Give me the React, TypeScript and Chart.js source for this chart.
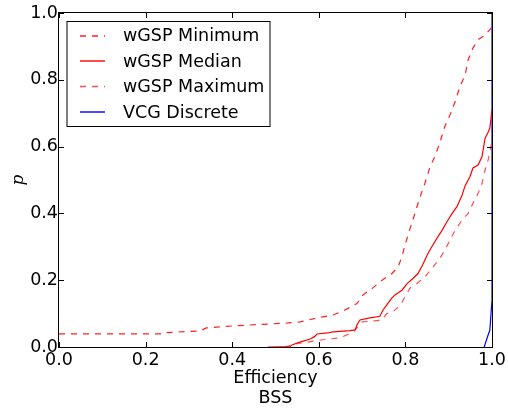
import React, { useEffect, useRef } from "react";
import { Chart, registerables } from "chart.js";

Chart.register(...registerables);

// ---- data ----
const xTickValues = [0, 0.2, 0.4, 0.6, 0.8, 1.0];
const yTickValues = [0, 0.2, 0.4, 0.6, 0.8, 1.0];
const xTitleLines = ["Efficiency", "BSS"];
const yTitle = "p";
const seriesNames = ["wGSP Minimum", "wGSP Median", "wGSP Maximum", "VCG Discrete"];

const minX = [0, 0.24, 0.245, 0.326, 0.34, 0.4, 0.53, 0.557, 0.596, 0.633, 0.656, 0.688, 0.702, 0.725, 0.741, 0.757, 0.769, 0.783, 0.792, 0.799, 0.811, 0.822, 0.834, 0.845, 0.857, 0.868, 0.88, 0.891, 0.903, 0.915, 0.926, 0.938, 0.945, 0.956, 0.968, 0.984, 1.0];
const minY = [0.039, 0.039, 0.043, 0.048, 0.057, 0.063, 0.072, 0.075, 0.087, 0.096, 0.108, 0.13, 0.156, 0.177, 0.195, 0.21, 0.22, 0.24, 0.27, 0.305, 0.356, 0.4, 0.45, 0.49, 0.54, 0.57, 0.614, 0.66, 0.695, 0.735, 0.78, 0.815, 0.86, 0.895, 0.92, 0.934, 0.958];

const medX = [0.483, 0.533, 0.538, 0.55, 0.56, 0.58, 0.59, 0.596, 0.62, 0.633, 0.672, 0.684, 0.688, 0.695, 0.718, 0.741, 0.748, 0.757, 0.769, 0.776, 0.792, 0.804, 0.818, 0.829, 0.84, 0.852, 0.861, 0.873, 0.885, 0.896, 0.908, 0.919, 0.931, 0.938, 0.949, 0.956, 0.968, 0.977, 0.984, 0.991, 0.995, 1.0];
const medY = [0, 0.001, 0.006, 0.012, 0.016, 0.024, 0.031, 0.039, 0.042, 0.045, 0.049, 0.051, 0.066, 0.081, 0.087, 0.092, 0.11, 0.126, 0.147, 0.156, 0.17, 0.19, 0.206, 0.22, 0.246, 0.28, 0.3, 0.326, 0.35, 0.375, 0.4, 0.42, 0.455, 0.483, 0.51, 0.536, 0.545, 0.57, 0.625, 0.643, 0.655, 0.71];

const maxX = [0.52, 0.55, 0.6, 0.65, 0.68, 0.69, 0.7, 0.745, 0.757, 0.771, 0.788, 0.799, 0.811, 0.827, 0.845, 0.864, 0.88, 0.891, 0.903, 0.915, 0.931, 0.945, 0.956, 0.968, 0.977, 0.984, 0.991, 0.996, 1.0];
const maxY = [0, 0.01, 0.02, 0.028, 0.045, 0.06, 0.075, 0.08, 0.1, 0.105, 0.125, 0.15, 0.177, 0.19, 0.21, 0.24, 0.266, 0.29, 0.32, 0.35, 0.38, 0.4, 0.43, 0.46, 0.49, 0.53, 0.56, 0.59, 0.62];

const vcgX = [0.982, 0.991, 0.995, 1.0, 1.0];
const vcgY = [0, 0.036, 0.05, 0.14, 1.0];

const seriesColors = ["#ff2020", "#ff0000", "#ff5050", "#0000ff"];
const seriesDashed = [true, false, true, false];

const FONT = "DejaVu Sans";

const toPts = (xs: number[], ys: number[]) => xs.map((x, i) => ({ x, y: ys[i] }));

const framePlugin = {
  id: "frame",
  beforeDatasetsDraw(chart: any) {
    const { ctx, chartArea: a } = chart;
    ctx.save();
    ctx.strokeStyle = "#000";
    ctx.lineWidth = 1;
    ctx.setLineDash([]);
    ctx.strokeRect(a.left - 0.5, a.top - 0.5, a.right - a.left + 1, a.bottom - a.top + 1);
    ctx.restore();
  },
  afterDatasetsDraw(chart: any) {
    const { ctx, chartArea: a, scales } = chart;
    ctx.save();
    ctx.strokeStyle = "#000";
    ctx.lineWidth = 1;
    ctx.setLineDash([]);
    const L = 5;
    ctx.beginPath();
    xTickValues.forEach((v) => {
      const p = Math.round(scales.x.getPixelForValue(v)) + 0.5;
      ctx.moveTo(p, a.bottom);
      ctx.lineTo(p, a.bottom - L);
      ctx.moveTo(p, a.top);
      ctx.lineTo(p, a.top + L);
    });
    yTickValues.forEach((v) => {
      const p = Math.round(scales.y.getPixelForValue(v)) + 0.5;
      ctx.moveTo(a.left, p);
      ctx.lineTo(a.left + L, p);
      ctx.moveTo(a.right, p);
      ctx.lineTo(a.right - L, p);
    });
    ctx.stroke();
    ctx.restore();
  },
  afterDraw(chart: any) {
    const { ctx } = chart;
    ctx.save();
    const bx = 67, by = 21.5, bw = 203, bh = 105;
    ctx.setLineDash([]);
    ctx.fillStyle = "#fff";
    ctx.fillRect(bx, by, bw, bh);
    ctx.strokeStyle = "#000";
    ctx.lineWidth = 1;
    ctx.strokeRect(bx, by, bw, bh);
    const rowY = [36, 61, 86.5, 112];
    ctx.font = `17.5px "${FONT}"`;
    ctx.textBaseline = "middle";
    ctx.textAlign = "left";
    for (let i = 0; i < seriesNames.length; i++) {
      ctx.save();
      ctx.beginPath();
      ctx.setLineDash(seriesDashed[i] ? [6, 6] : []);
      ctx.strokeStyle = seriesColors[i];
      ctx.lineWidth = 1.4;
      ctx.moveTo(80, rowY[i]);
      ctx.lineTo(105, rowY[i]);
      ctx.stroke();
      ctx.restore();
      ctx.fillStyle = "#000";
      ctx.fillText(seriesNames[i], 123, (i === 0 ? 35.5 : rowY[i]) + 1);
    }
    ctx.restore();
  },
};

export default function App() {
  const ref = useRef<HTMLCanvasElement | null>(null);
  useEffect(() => {
    if (!ref.current) return;
    const data = [toPts(minX, minY), toPts(medX, medY), toPts(maxX, maxY), toPts(vcgX, vcgY)];
    const chart = new Chart(ref.current, {
      type: "line",
      data: {
        datasets: data.map((d, i) => ({
          label: seriesNames[i],
          data: d,
          borderColor: seriesColors[i],
          backgroundColor: seriesColors[i],
          borderWidth: 1.2,
          borderDash: seriesDashed[i] ? [6, 6] : [],
          pointRadius: 0,
          tension: 0,
          fill: false,
        })),
      },
      options: {
        animation: false,
        responsive: false,
        devicePixelRatio: 1,
        layout: { padding: { top: 13, right: 16, bottom: 0, left: 0 } },
        plugins: { legend: { display: false }, tooltip: { enabled: false } },
        scales: {
          x: {
            type: "linear",
            min: 0,
            max: 1,
            grid: { display: false, drawTicks: false },
            border: { display: false },
            afterBuildTicks: (s: any) => {
              s.ticks = xTickValues.map((v) => ({ value: v }));
            },
            ticks: {
              padding: 3,
              color: "#000",
              maxRotation: 0,
              autoSkip: false,
              font: { family: FONT, size: 17.5 },
              callback: (v: any) => Number(v).toFixed(1),
            },
            title: {
              display: true,
              text: xTitleLines,
              color: "#000",
              font: { family: FONT, size: 17.5, lineHeight: 1.17 },
              padding: { top: 0, bottom: 0 },
            },
            afterFit: (s: any) => {
              s.height = 62;
              s.paddingLeft = 0;
              s.paddingRight = 0;
            },
          },
          y: {
            type: "linear",
            min: 0,
            max: 1,
            grid: { display: false, drawTicks: false },
            border: { display: false },
            afterBuildTicks: (s: any) => {
              s.ticks = yTickValues.map((v) => ({ value: v }));
            },
            ticks: {
              padding: 1,
              color: "#000",
              autoSkip: false,
              font: { family: FONT, size: 17.5 },
              callback: (v: any) => Number(v).toFixed(1),
            },
            title: {
              display: true,
              text: yTitle,
              color: "#000",
              font: { family: "DejaVu Serif", style: "italic", size: 17 },
              padding: { top: 8, bottom: 0 },
            },
            afterFit: (s: any) => {
              s.width = 59;
              s.paddingTop = 0;
              s.paddingBottom = 0;
            },
          },
        },
      } as any,
      plugins: [framePlugin],
    });
    return () => chart.destroy();
  }, []);
  return (
    <div style={{ position: "absolute", left: 0, top: 0, width: 508, height: 409 }}>
      <canvas ref={ref} width={508} height={409} style={{ display: "block" }} />
    </div>
  );
}
